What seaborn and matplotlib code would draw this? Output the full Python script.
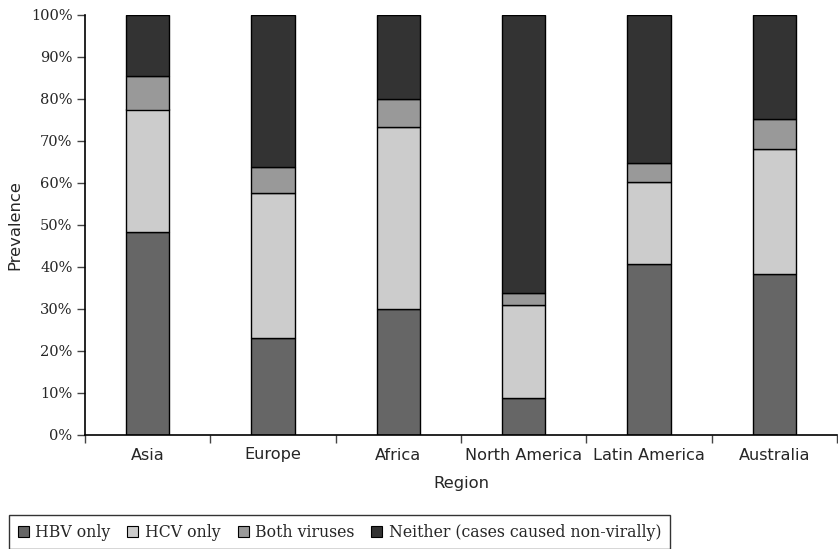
import matplotlib
matplotlib.use("Agg")
import matplotlib.pyplot as plt
from matplotlib.patches import Patch
from matplotlib.ticker import PercentFormatter, FixedLocator
import seaborn as sns
import pandas as pd
import numpy as np

regions = ["Asia", "Europe", "Africa", "North America", "Latin America", "Australia"]
series_names = ["HBV only", "HCV only", "Both viruses", "Neither (cases caused non-virally)"]
hbv_only = [48.3, 23.2, 30.0, 8.9, 40.7, 38.4]
hcv_only = [29.2, 34.4, 43.3, 22.0, 19.5, 29.7]
both_viruses = [7.9, 6.3, 6.7, 3.0, 4.6, 7.1]
neither = [14.6, 36.1, 20.0, 66.1, 35.2, 24.8]
series_values = [hbv_only, hcv_only, both_viruses, neither]
series_colors = ["#666666", "#cccccc", "#999999", "#333333"]

sns.set_style("white")
plt.rcParams["font.family"] = ["DejaVu Sans"]

fig = plt.figure(figsize=(8.38, 5.49), dpi=100)
ax = fig.add_axes([85 / 838, 114 / 549, 752 / 838, 420 / 549])

# stacked bars: each layer sits on the running total of the ones below
bottom = np.zeros(len(regions))
for name, vals, col in zip(series_names, series_values, series_colors):
    df = pd.DataFrame({"Region": regions, "Prevalence": vals})
    sns.barplot(data=df, x="Region", y="Prevalence", order=regions, color=col,
                width=0.345, bottom=bottom, edgecolor="black", linewidth=1.0,
                saturation=1, ax=ax, errorbar=None)
    bottom = bottom + np.array(vals)

ax.set_xlim(-0.5, len(regions) - 0.5)
ax.set_ylim(0, 100)
ax.set_yticks(np.arange(0, 101, 10))
ax.yaxis.set_major_formatter(PercentFormatter(decimals=0))
for lbl in ax.get_yticklabels():
    lbl.set_family("DejaVu Serif")
    lbl.set_fontsize(10.5)

ax.set_xticks(range(len(regions)))
ax.set_xticklabels(regions, fontsize=11.6)
ax.tick_params(axis="x", which="major", length=0, pad=9)
ax.xaxis.set_minor_locator(FixedLocator(np.arange(-0.5, len(regions), 1.0)))
ax.tick_params(axis="x", which="minor", length=6, width=1, color="#444444", direction="out", bottom=True)
ax.tick_params(axis="y", which="major", length=6, width=1, color="#444444", direction="out", left=True, pad=3)

for side in ["top", "right"]:
    ax.spines[side].set_visible(False)
for side in ["left", "bottom"]:
    ax.spines[side].set_color("black")
    ax.spines[side].set_linewidth(1.2)

ax.set_xlabel("Region", fontsize=11.8, labelpad=10)
ax.set_ylabel("Prevalence", fontsize=11.8, labelpad=6)

handles = [Patch(facecolor=c, edgecolor="black", linewidth=0.8) for c in series_colors]
leg = fig.legend(handles, series_names, loc="upper left",
                 bbox_to_anchor=(9 / 838, 1 - 515 / 549), ncol=4,
                 frameon=True, fancybox=False, edgecolor="black",
                 prop={"family": "DejaVu Serif", "size": 11.3},
                 handlelength=0.7, handleheight=0.7, handletextpad=0.4,
                 columnspacing=1.1, borderpad=0.55, borderaxespad=0)
leg.get_frame().set_linewidth(1.0)

fig.savefig("out.png", dpi=100)
